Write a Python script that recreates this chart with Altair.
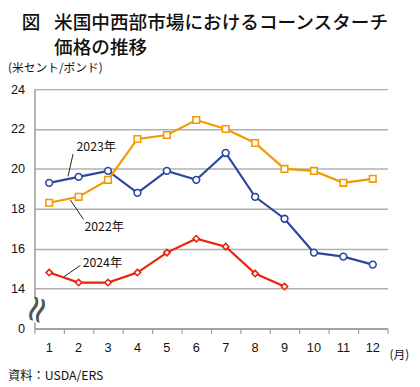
import altair as alt
import pandas as pd

# ---- data ----
months = list(range(1, 13))
v2023 = [19.3, 19.6, 19.9, 18.8, 19.9, 19.45, 20.8, 18.6, 17.5, 15.8, 15.6, 15.2]
v2022 = [18.3, 18.6, 19.45, 21.5, 21.7, 22.45, 22.0, 21.3, 20.0, 19.9, 19.3, 19.5]
v2024 = [14.8, 14.3, 14.3, 14.8, 15.8, 16.5, 16.1, 14.75, 14.1]

series = ["2023年", "2022年", "2024年"]
colors = ["#2B47A0", "#F39800", "#E8230E"]
shapes = ["circle", "square", "diamond"]
sizes = [48, 42, 26]

y_ticks = [12, 14, 16, 18, 20, 22, 24]
x_ticks = [0.5 + i for i in range(13)]

# annotation labels (month, value) and leader lines
ann_text = ["2023年", "2022年", "2024年"]
ann_x = [1.93, 2.2, 2.14]
ann_y = [21.1, 17.1, 15.3]
lead_x1 = [1.64, 1.72, 1.5]
lead_y1 = [19.62, 18.44, 14.59]
lead_x2 = [1.81, 2.17, 2.06]
lead_y2 = [20.74, 17.46, 15.16]

title1 = "米国中西部市場におけるコーンスターチ"
title2 = "価格の推移"
fig_label = "図"
unit_label = "(米セント/ポンド)"
month_label = "(月)"
source_label = "資料：USDA/ERS"

JP = "Noto Sans CJK JP"
LAT = "Liberation Sans"

rows = []
for s, vals in zip(series, [v2023, v2022, v2024]):
    for m, v in zip(months, vals):
        rows.append({"series": s, "month": m, "value": v})
df = pd.DataFrame(rows)

ann = pd.DataFrame({"text": ann_text, "x": ann_x, "y": ann_y,
                    "x1": lead_x1, "y1": lead_y1, "x2": lead_x2, "y2": lead_y2})
mdf = pd.DataFrame({"m": months})

W, H = 360, 244

xs = alt.Scale(domain=[0.5, 12.5], nice=False, zero=False)
ys = alt.Scale(domain=[12, 24], nice=False, zero=False)

x_axis = alt.Axis(
    values=x_ticks, title=None, grid=False, labels=False,
    tickSize=5, tickColor="#999999", tickWidth=1.2,
    domainColor="#999999", domainWidth=1.5,
)
y_axis = alt.Axis(
    values=y_ticks, title=None, grid=True, gridColor="#B0B0B0", gridWidth=1.5,
    labelExpr="datum.value === 12 ? '0' : datum.label",
    ticks=False, domainColor="#999999", domainWidth=1.5,
    labelFont=LAT, labelFontSize=13, labelColor="#111111", labelPadding=10,
)

def X(f):
    return alt.X(f, scale=xs, axis=x_axis)

def Y(f):
    return alt.Y(f, scale=ys, axis=y_axis)

color_scale = alt.Scale(domain=series, range=colors)

lines = alt.Chart(df).mark_line(strokeWidth=2.2).encode(
    x=X("month:Q"), y=Y("value:Q"),
    color=alt.Color("series:N", scale=color_scale, legend=None),
)
points = alt.Chart(df).mark_point(filled=True, fill="white", strokeWidth=1.6, opacity=1).encode(
    x=X("month:Q"), y=Y("value:Q"),
    stroke=alt.Stroke("series:N", scale=color_scale, legend=None),
    shape=alt.Shape("series:N", scale=alt.Scale(domain=series, range=shapes), legend=None),
    size=alt.Size("series:N", scale=alt.Scale(domain=series, range=sizes), legend=None),
)

leaders = alt.Chart(ann).mark_rule(color="#222222", strokeWidth=1).encode(
    x=X("x1:Q"), y=Y("y1:Q"), x2="x2:Q", y2="y2:Q"
)
labels = alt.Chart(ann).mark_text(align="left", baseline="middle", font=JP,
                                  fontSize=12.5, color="#111111").encode(
    x=X("x:Q"), y=Y("y:Q"), text="text:N"
)

# month labels under the x axis
month_labels = alt.Chart(mdf).mark_text(baseline="middle", align="center", font=LAT,
                                        fontSize=13, color="#111111").encode(
    x=X("m:Q"), y=alt.value(H + 20), text="m:Q"
)

# axis break symbol
brk = pd.DataFrame({"text": ["≈"], "x": [0.56], "y": [12.95]})
brk_mask = alt.Chart(brk).mark_rect(color="white").encode(
    x=alt.value(-4), x2=alt.value(4),
    y=alt.value(H - 30), y2=alt.value(H - 6),
)
brk_sym = alt.Chart(brk).mark_text(font="DejaVu Sans", fontSize=38, angle=108,
                                   color="#555555", baseline="middle", align="center").encode(
    x=X("x:Q"), y=Y("y:Q"), text="text:N"
)

def txt(s, px, py, size, align="left", weight="normal", font=JP):
    return alt.Chart(pd.DataFrame({"t": [s]})).mark_text(
        align=align, baseline="middle", fontSize=size, font=font,
        fontWeight=weight, color="#111111"
    ).encode(x=alt.value(px), y=alt.value(py), text="t:N")

texts = [
    txt(fig_label, -13, -67, 19, weight=500),
    txt(title1, 20, -67, 19, weight=500),
    txt(title2, 20, -42, 19, weight=500),
    txt(unit_label, -27, -21, 12),
    txt(month_label, 362, 271, 12),
    txt(source_label, -27, 293, 12.5),
]

chart = alt.layer(lines, points, leaders, labels, month_labels, brk_mask, brk_sym, *texts).properties(
    width=W, height=H,
    padding={"left": 27, "top": 79, "right": 25, "bottom": 56},
    autosize=alt.AutoSizeParams(type="none"),
).configure_view(stroke=None)

chart.save("out.html", embed_options={"renderer": "svg", "actions": False})
